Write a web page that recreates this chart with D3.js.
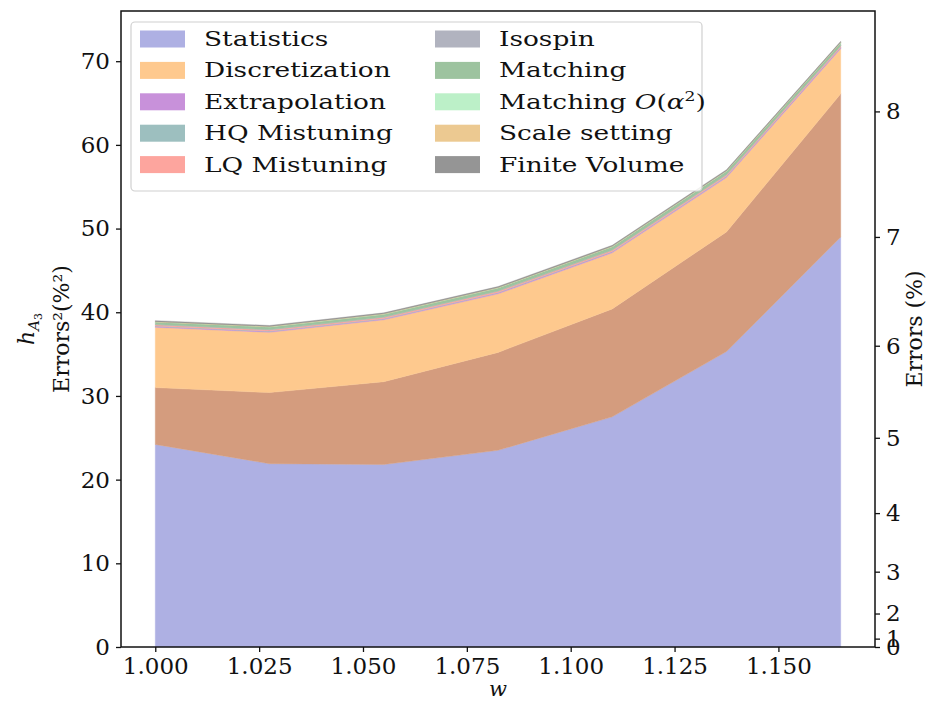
<!DOCTYPE html>
<html lang="en">
<head>
	<meta charset="utf-8">
	<title>h_A3 error budget</title>
	<script src="https://d3js.org/d3.v7.min.js"></script>
	<style>
		body { margin: 0; background: #ffffff; }
		text { font-family: "DejaVu Serif", serif; fill: #111; }
	</style>
</head>
<body>
<script>
	// recoil values w
	var wValues = [1.0, 1.0275, 1.055, 1.0825, 1.11, 1.1375, 1.165];

	// contributions to the squared error, in %^2 (stacked bottom to top)
	var statistics     = [24.2, 21.9, 21.8, 23.5, 27.5, 35.3, 49.0];
	var unlabelled     = [6.8, 8.5, 9.9, 11.7, 12.9, 14.3, 17.1];
	var discretization = [7.2, 7.2, 7.4, 7.0, 6.7, 6.5, 5.4];
	var extrapolation  = [0.10, 0.10, 0.10, 0.12, 0.12, 0.13, 0.13];
	var hqMistuning    = [0.05, 0.05, 0.05, 0.05, 0.05, 0.05, 0.05];
	var lqMistuning    = [0.15, 0.15, 0.15, 0.15, 0.15, 0.15, 0.15];
	var isospin        = [0.03, 0.03, 0.03, 0.03, 0.03, 0.03, 0.03];
	var matching       = [0.30, 0.32, 0.33, 0.35, 0.38, 0.40, 0.35];
	var matchingA2     = [0.02, 0.02, 0.02, 0.02, 0.02, 0.02, 0.02];
	var scaleSetting   = [0.03, 0.03, 0.03, 0.03, 0.03, 0.03, 0.03];
	var finiteVolume   = [0.12, 0.12, 0.12, 0.12, 0.12, 0.12, 0.12];

	var xTicks = [1.000, 1.025, 1.050, 1.075, 1.100, 1.125, 1.150];
	var yTicks = [0, 10, 20, 30, 40, 50, 60, 70];
	var errTicks = [0, 1, 2, 3, 4, 5, 6, 7, 8];

	var series = [
		{ key: "statistics", label: "Statistics", values: statistics, color: "#aeb0e3" },
		{ key: "unlabelled", label: null, values: unlabelled, color: "#d49c7e" },
		{ key: "discretization", label: "Discretization", values: discretization, color: "#fec98e" },
		{ key: "extrapolation", label: "Extrapolation", values: extrapolation, color: "#c891da" },
		{ key: "hqMistuning", label: "HQ Mistuning", values: hqMistuning, color: "#9dbfbf" },
		{ key: "lqMistuning", label: "LQ Mistuning", values: lqMistuning, color: "#fda59e" },
		{ key: "isospin", label: "Isospin", values: isospin, color: "#b1b3bf" },
		{ key: "matching", label: "Matching", values: matching, color: "#9dc39f" },
		{ key: "matchingA2", label: "Matching O(α²)", values: matchingA2, color: "#bcf0c8" },
		{ key: "scaleSetting", label: "Scale setting", values: scaleSetting, color: "#ecc991" },
		{ key: "finiteVolume", label: "Finite Volume", values: finiteVolume, color: "#959595" }
	];

	var w = 929;
	var h = 701;
	var mLeft = 121, mRight = 875, mTop = 11, mBottom = 647;

	// build table for d3.stack
	var rows = wValues.map(function(x, i) {
		var r = { w: x };
		series.forEach(function(s) { r[s.key] = s.values[i]; });
		return r;
	});

	var stack = d3.stack().keys(series.map(function(s) { return s.key; }));
	var layers = stack(rows);

	var xPad = (d3.max(wValues) - d3.min(wValues)) * 0.05;
	var xScale = d3.scaleLinear()
		.domain([d3.min(wValues) - xPad, d3.max(wValues) + xPad])
		.range([mLeft, mRight]);

	var yMax = d3.max(layers[layers.length - 1], function(d) { return d[1]; }) * 1.05;
	var yScale = d3.scaleLinear()
		.domain([0, yMax])
		.range([mBottom, mTop]);

	// right axis shows sqrt of the left one
	var errScale = d3.scalePow().exponent(2)
		.domain([0, Math.sqrt(yMax)])
		.range([mBottom, mTop]);

	var svg = d3.select("body")
		.append("svg")
		.attr("width", w)
		.attr("height", h);

	var area = d3.area()
		.x(function(d) { return xScale(d.data.w); })
		.y0(function(d) { return yScale(d[0]); })
		.y1(function(d) { return yScale(d[1]); });

	svg.selectAll("path.layer")
		.data(layers)
		.enter()
		.append("path")
		.attr("class", "layer")
		.attr("d", area)
		.attr("fill", function(d, i) { return series[i].color; })
		.attr("stroke", function(d, i) { return series[i].color; })
		.attr("stroke-width", 0.4);

	// axes
	var xAxis = d3.axisBottom(xScale).tickValues(xTicks).tickFormat(d3.format(".3f")).tickSize(5).tickPadding(6);
	var yAxis = d3.axisLeft(yScale).tickValues(yTicks).tickSize(5).tickPadding(6);
	var errAxis = d3.axisRight(errScale).tickValues(errTicks).tickSize(5).tickPadding(6);

	function styleAxis(g) {
		g.select(".domain").remove();
		g.selectAll("line").attr("stroke", "#111").attr("stroke-width", 1.3);
		g.selectAll("text").attr("font-size", 23).attr("font-family", "'DejaVu Serif', serif").attr("fill", "#111");
	}

	svg.append("g").attr("transform", "translate(0," + mBottom + ")").call(xAxis).call(styleAxis);
	svg.append("g").attr("transform", "translate(" + mLeft + ",0)").call(yAxis).call(styleAxis);
	svg.append("g").attr("transform", "translate(" + mRight + ",0)").call(errAxis).call(styleAxis);

	// frame
	svg.append("rect")
		.attr("x", mLeft).attr("y", mTop)
		.attr("width", mRight - mLeft).attr("height", mBottom - mTop)
		.attr("fill", "none").attr("stroke", "#111").attr("stroke-width", 1.5);

	// axis labels
	svg.append("text")
		.attr("x", (mLeft + mRight) / 2).attr("y", 696)
		.attr("text-anchor", "middle").attr("font-size", 21).attr("font-style", "italic")
		.text("w");

	var yLab = svg.append("text")
		.attr("transform", "translate(34," + ((mTop + mBottom) / 2) + ") rotate(-90)")
		.attr("text-anchor", "middle").attr("font-size", 22);
	yLab.append("tspan").attr("font-style", "italic").text("h");
	yLab.append("tspan").attr("font-style", "italic").attr("font-size", 15).attr("dy", 5).text("A");
	yLab.append("tspan").attr("font-size", 11).attr("dy", 3).text("3");

	svg.append("text")
		.attr("transform", "translate(69," + ((mTop + mBottom) / 2) + ") rotate(-90)")
		.attr("text-anchor", "middle").attr("font-size", 22)
		.text("Errors²(%²)");

	svg.append("text")
		.attr("transform", "translate(922," + ((mTop + mBottom) / 2) + ") rotate(-90)")
		.attr("text-anchor", "middle").attr("font-size", 22)
		.text("Errors (%)");

	// legend
	var legendItems = series.filter(function(s) { return s.label !== null; });
	var legend = svg.append("g");
	legend.append("rect")
		.attr("x", 131).attr("y", 22)
		.attr("width", 571).attr("height", 169)
		.attr("rx", 4)
		.attr("fill", "#ffffff").attr("fill-opacity", 0.85)
		.attr("stroke", "#d0d0d0").attr("stroke-width", 1.2);

	legendItems.forEach(function(s, i) {
		var col = Math.floor(i / 5);
		var row = i % 5;
		var sx = col === 0 ? 140 : 435;
		var cy = 39 + row * 31.4;
		legend.append("rect")
			.attr("x", sx).attr("y", cy - 8.5)
			.attr("width", 45).attr("height", 17)
			.attr("fill", s.color);
		var t = legend.append("text")
			.attr("transform", "translate(" + (sx + 64) + "," + (cy + 7) + ") scale(1.32,1)")
			.attr("font-size", 20);
		if (s.key === "matchingA2") {
			t.append("tspan").text("Matching ");
			t.append("tspan").attr("font-style", "italic").text("O");
			t.append("tspan").text("(");
			t.append("tspan").attr("font-style", "italic").text("α");
			t.append("tspan").attr("font-size", 13).attr("dy", -8).text("2");
			t.append("tspan").attr("dy", 8).text(")");
		} else {
			t.text(s.label);
		}
	});
</script>
</body>
</html>
